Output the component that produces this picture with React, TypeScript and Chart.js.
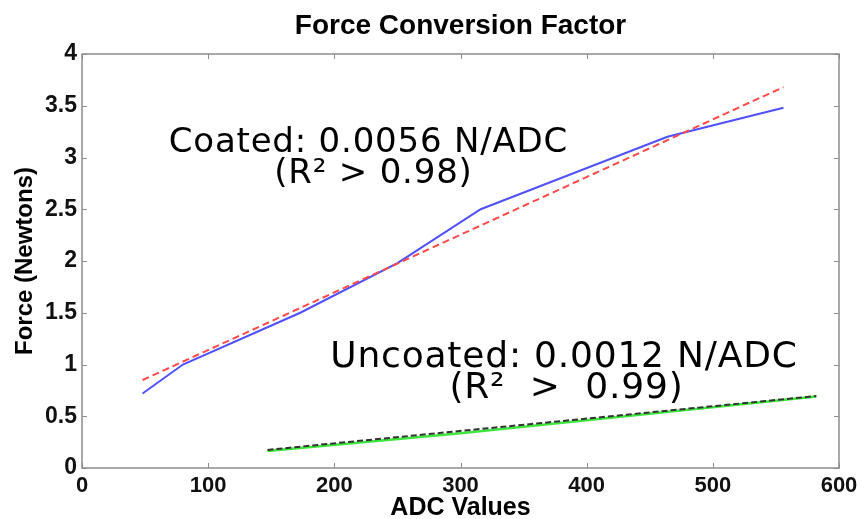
import React, { useEffect, useRef } from "react";
import { Chart, registerables } from "chart.js";

Chart.register(...registerables);

const TITLE = "Force Conversion Factor";
const X_TITLE = "ADC Values";
const Y_TITLE = "Force (Newtons)";

const coatedX = [48, 80, 173, 250, 316, 390, 464, 556];
const coatedY = [0.72, 1.0, 1.5, 1.98, 2.5, 2.85, 3.2, 3.48];
const coatedFitX = [48, 556];
const coatedFitY = [0.85, 3.68];

const uncoatedX = [147, 300, 582];
const uncoatedY = [0.165, 0.335, 0.69];
const uncoatedFitX = [147, 582];
const uncoatedFitY = [0.175, 0.695];

const xTicks = [0, 100, 200, 300, 400, 500, 600];
const yTicks = [0, 0.5, 1, 1.5, 2, 2.5, 3, 3.5, 4];

const annotations = [
  { x: 227, y: 3.05, text: "Coated: 0.0056 N/ADC", size: 34, spacing: 0.8 },
  { x: 231, y: 2.75, text: "(R\u00B2 > 0.98)", size: 34, spacing: 0.8 },
  { x: 382, y: 0.976, text: "Uncoated: 0.0012 N/ADC", size: 36, spacing: 0.8 },
  { x: 384, y: 0.676, text: "(R\u00B2  >  0.99)", size: 36, spacing: 0.8 },
];

const pts = (xs: number[], ys: number[]) => xs.map((x, i) => ({ x, y: ys[i] }));

const framePlugin = {
  id: "frame",
  afterDatasetsDraw(chart: any) {
    const { ctx, chartArea: a, scales } = chart;
    const xs = scales.x;
    const ys = scales.y;
    ctx.save();
    ctx.strokeStyle = "#8c8c8c";
    ctx.lineWidth = 1.5;
    ctx.strokeRect(a.left, a.top, a.right - a.left, a.bottom - a.top);
    ctx.lineWidth = 1;
    const tl = 5;
    ctx.beginPath();
    xTicks.forEach((t) => {
      const p = Math.round(xs.getPixelForValue(t)) + 0.5;
      ctx.moveTo(p, a.bottom);
      ctx.lineTo(p, a.bottom - tl);
      ctx.moveTo(p, a.top);
      ctx.lineTo(p, a.top + tl);
    });
    yTicks.forEach((t) => {
      const p = Math.round(ys.getPixelForValue(t)) + 0.5;
      ctx.moveTo(a.left, p);
      ctx.lineTo(a.left + tl, p);
      ctx.moveTo(a.right, p);
      ctx.lineTo(a.right - tl, p);
    });
    ctx.stroke();

    // annotations
    ctx.fillStyle = "#000";
    ctx.textAlign = "center";
    ctx.textBaseline = "alphabetic";
    annotations.forEach((an) => {
      ctx.font = `${an.size}px 'DejaVu Sans'`;
      (ctx as any).letterSpacing = `${an.spacing}px`;
      ctx.fillText(an.text, xs.getPixelForValue(an.x), ys.getPixelForValue(an.y));
    });
    (ctx as any).letterSpacing = "0px";

    // titles
    ctx.font = "bold 28px 'Liberation Sans'";
    ctx.textBaseline = "middle";
    ctx.fillText(TITLE, (a.left + a.right) / 2, 26);
    ctx.font = "bold 25px 'Liberation Sans'";
    ctx.fillText(X_TITLE, (a.left + a.right) / 2, 508);
    ctx.font = "bold 24px 'Liberation Sans'";
    ctx.translate(25, (a.top + a.bottom) / 2);
    ctx.rotate(-Math.PI / 2);
    ctx.fillText(Y_TITLE, 0, 0);
    ctx.restore();
  },
};

export default function App() {
  const ref = useRef<HTMLCanvasElement>(null);
  useEffect(() => {
    if (!ref.current) return;
    const chart = new Chart(ref.current, {
      type: "line",
      data: {
        datasets: [
          {
            data: pts(coatedFitX, coatedFitY),
            borderColor: "#ff4a4a",
            borderWidth: 2,
            borderDash: [7, 4],
            pointRadius: 0,
            order: 1,
          },
          {
            data: pts(coatedX, coatedY),
            borderColor: "#5050ff",
            borderWidth: 2,
            pointRadius: 0,
            order: 2,
          },
          {
            data: pts(uncoatedFitX, uncoatedFitY),
            borderColor: "#333333",
            borderWidth: 2,
            borderDash: [6, 3],
            pointRadius: 0,
            order: 3,
          },
          {
            data: pts(uncoatedX, uncoatedY),
            borderColor: "#3ee63e",
            borderWidth: 2.5,
            pointRadius: 0,
            order: 4,
          },
        ],
      },
      options: {
        responsive: false,
        animation: false,
        devicePixelRatio: 1,
        layout: { padding: { top: 54, right: 25, left: 0, bottom: 0 } },
        plugins: { legend: { display: false }, tooltip: { enabled: false }, title: { display: false } },
        scales: {
          x: {
            type: "linear",
            min: 0,
            max: 600,
            afterFit: (s: any) => { s.height = 51; },
            afterBuildTicks: (s: any) => { s.ticks = xTicks.map((v) => ({ value: v })); },
            grid: { display: false, drawTicks: false },
            border: { display: false },
            ticks: {
              padding: 5,
              color: "#111",
              font: { family: "'Liberation Sans'", size: 22, weight: "bold" },
              callback: (v: any) => String(v),
              maxRotation: 0,
              autoSkip: false,
            },
          },
          y: {
            type: "linear",
            min: 0,
            max: 4,
            afterFit: (s: any) => { s.width = 82; },
            afterBuildTicks: (s: any) => { s.ticks = yTicks.map((v) => ({ value: v })); },
            grid: { display: false, drawTicks: false },
            border: { display: false },
            ticks: {
              padding: 5,
              color: "#111",
              font: { family: "'Liberation Sans'", size: 23, weight: "bold" },
              callback: (v: any) => String(v),
              autoSkip: false,
            },
          },
        },
      },
      plugins: [framePlugin],
    } as any);
    return () => chart.destroy();
  }, []);
  return (
    <div style={{ position: "fixed", left: 0, top: 0, width: 864, height: 519, background: "#fff" }}>
      <canvas ref={ref} width={864} height={519} style={{ width: 864, height: 519 }} />
    </div>
  );
}
